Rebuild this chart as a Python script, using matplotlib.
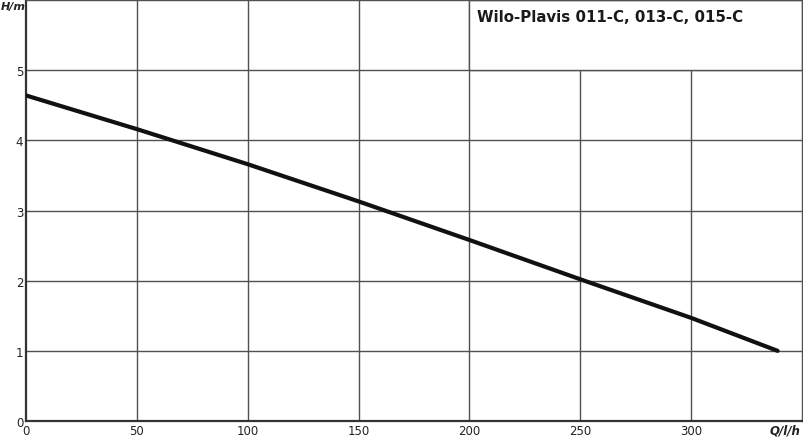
import matplotlib.pyplot as plt
from matplotlib.patches import Rectangle

# pump curve
Q = [0, 50, 100, 150, 200, 250, 300, 339]
H = [4.64, 4.16, 3.66, 3.13, 2.58, 2.02, 1.47, 1.0]

x_ticks = [0, 50, 100, 150, 200, 250, 300]
y_ticks = [0, 1, 2, 3, 4, 5]
title = "Wilo-Plavis 011-C, 013-C, 015-C"

fig = plt.figure(figsize=(8.04, 4.39), dpi=100)
ax = fig.add_axes([0.0323, 0.0387, 0.9652, 0.9590])
ax.set_xlim(0, 350)
ax.set_ylim(0, 6)

grid_c = "#505050"
for x in x_ticks[1:]:
    ax.axvline(x, color=grid_c, lw=1.0, zorder=1)
for y in y_ticks[1:]:
    ax.axhline(y, color=grid_c, lw=1.0, zorder=1)

# title box in the top right corner
ax.add_patch(Rectangle((200, 5), 150, 1, facecolor="white", edgecolor=grid_c, lw=1.0, zorder=2))
ax.text(203.5, 5.76, title, fontsize=10.8, fontweight="bold", color="#1a1a1a",
        ha="left", va="center", zorder=3)

ax.plot(Q, H, color="#111111", lw=3, solid_capstyle="round", zorder=4)

ax.set_xticks(x_ticks)
ax.set_yticks(y_ticks)
ax.tick_params(length=0, labelsize=8.5, colors="#222222", pad=2)
for s in ["left", "bottom"]:
    ax.spines[s].set_color("#333333")
    ax.spines[s].set_linewidth(1.6)
for s in ["top", "right"]:
    ax.spines[s].set_color(grid_c)
    ax.spines[s].set_linewidth(1.0)

fig.text(0.001, 0.995, "H/m", fontsize=8, fontweight="bold", style="italic",
         ha="left", va="top", color="#222222")
ax.text(349.5, -0.04, "Q/l/h", fontsize=8.5, fontweight="bold", style="italic",
        ha="right", va="top", color="#222222")

plt.savefig("out.png", dpi=100)
